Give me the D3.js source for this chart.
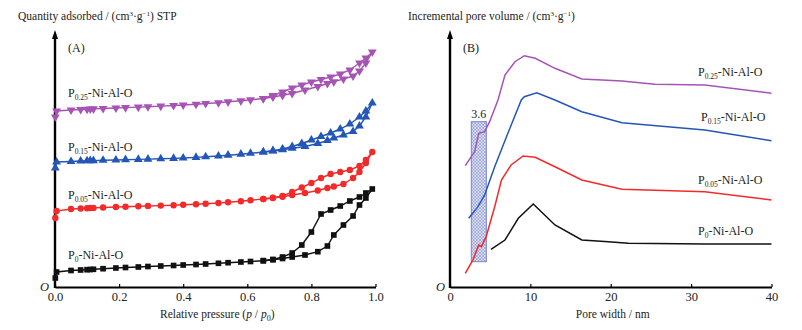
<!DOCTYPE html>
<html>
<head>
<meta charset="utf-8">
<script src="https://cdn.jsdelivr.net/npm/d3@7"></script>
<style>
  body { margin: 0; background: #fff; }
  text { font-family: "Liberation Serif", "Times New Roman", serif; fill: #222; }
</style>
</head>
<body>
<svg id="chart" width="802" height="330"></svg>
<script>
// ---- data (arbitrary, offset units) ----
const pressureAds = [0.001, 0.005, 0.05, 0.08, 0.10, 0.11, 0.12, 0.15, 0.19, 0.22, 0.26, 0.29, 0.33, 0.37, 0.40, 0.44, 0.47,
  0.51, 0.54, 0.58, 0.61, 0.65, 0.68, 0.71, 0.74, 0.78, 0.82, 0.85, 0.87, 0.90, 0.93, 0.95, 0.97, 0.99];
const pressureDes = [0.99, 0.97, 0.95, 0.92, 0.89, 0.86, 0.83, 0.80, 0.77, 0.74, 0.71, 0.68, 0.65];

const p0Ads = [9, 15, 16.5, 17, 17.3, 17.5, 17.7, 18.3, 19, 19.5, 20, 20.5, 21, 21.5, 22, 22.5, 23,
  23.7, 24.3, 25, 25.5, 26.3, 27.3, 28.5, 30, 32, 35.3, 41, 52, 62, 71, 82, 89, 98];
const p0Des = [98, 94, 90, 86, 81, 77, 73, 55, 42, 34, 30, 27.5, 26.3];

const p005Ads = [69, 76, 78, 78.5, 78.8, 79, 79.1, 79.5, 80, 80.3, 80.7, 81, 81.4, 81.8, 82.2, 82.8, 83.3,
  84, 84.8, 85.8, 86.8, 88, 89, 90.3, 92, 94, 96.5, 99, 100.5, 103, 109, 115, 124, 135];
const p005Des = [135, 127, 121, 117, 115, 113, 109, 104, 99.5, 95, 91, 89.3, 88];

const p015Ads = [119, 125, 125.5, 126, 126.2, 126.3, 126.4, 126.7, 127, 127.3, 127.6, 127.9, 128.2, 128.6, 129, 129.6, 130.2,
  131, 131.8, 132.8, 133.7, 135, 136, 137.3, 138.7, 140.5, 143.5, 146.5, 149, 152, 155.5, 161, 170, 184];
const p015Des = [184, 176, 170, 163, 158, 154, 150.5, 147, 143.5, 140.5, 138, 136.3, 135];

const p025Ads = [170, 176, 177, 177.5, 177.8, 178, 178.1, 178.5, 179, 179.4, 179.9, 180.3, 180.9, 181.5, 182, 182.8, 183.5,
  184.3, 185.2, 186.2, 187.2, 188.5, 190, 191.7, 193.5, 197, 200.5, 203.5, 205.3, 208, 211, 216, 224, 235];
const p025Des = [235, 229, 224, 217, 213, 210, 207.5, 205, 202, 199, 195, 191.5, 188.5];

// pore size distribution
const p025Width = [1.9, 3.07, 3.57, 4.31, 4.93, 5.97, 6.84, 8.08, 9.25, 10.6, 13.06, 16.4, 21.4, 25.5, 31.7, 40];
const p025Vol = [121.3, 135.3, 153.7, 155.3, 165.3, 187, 212, 225.3, 231.3, 228.7, 218.7, 208, 206, 202.7, 202, 193.7];
const p015Width = [2.32, 3.48, 4.31, 5.56, 7.2, 8.87, 9.25, 10.8, 13.06, 16.4, 21.4, 31.7, 40];
const p015Vol = [68.7, 80.3, 92, 120.3, 153.7, 187, 190.3, 194.3, 187, 175.3, 164.3, 157, 146.3];
const p005Width = [1.9, 2.86, 3.57, 3.9, 4.5, 5.56, 6.4, 7.6, 9.1, 10.6, 13.06, 16.4, 21.4, 31.7, 40];
const p005Vol = [13.7, 27, 42, 40.3, 50.3, 80.3, 107, 122, 131, 129.7, 120.3, 107, 97.7, 95.3, 87];
const p0Width = [5.1, 6.84, 8.5, 10.36, 13.06, 16.4, 19.7, 22.2, 31.7, 40];
const p0Vol = [37.7, 47, 68.7, 83, 62, 47, 45.3, 43.7, 43, 43];

const pressureTicks = [0, 0.2, 0.4, 0.6, 0.8, 1.0];
const widthTicks = [0, 10, 20, 30, 40];
const highlightBox = { x: [2.65, 4.52], y: [25.3, 165.3], label: '3.6' };

const seriesNames = ['0.25', '0.15', '0.05', '0'];

// ---- layout ----
const svg = d3.select('#chart');
const AXIS_Y = 287;
const colors = { '0.25': '#a653b5', '0.15': '#2456b8', '0.05': '#f22a2a', '0': '#111111' };

const xA = d3.scaleLinear().domain([0, 1]).range([55, 375.5]);
const xB = d3.scaleLinear().domain([0, 40]).range([450, 771.5]);
const y = d3.scaleLinear().domain([0, 255]).range([AXIS_Y, 32]);

// hatch pattern for highlighted box
const defs = svg.append('defs');
const pat = defs.append('pattern')
  .attr('id', 'hatch')
  .attr('patternUnits', 'userSpaceOnUse')
  .attr('width', 3.2).attr('height', 3.2);
pat.append('rect').attr('width', 3.2).attr('height', 3.2).attr('fill', '#eef0fb');
pat.append('path').attr('d', 'M0,0 L3.2,3.2 M3.2,0 L0,3.2')
  .attr('stroke', '#8d98d8').attr('stroke-width', 0.8);

// axes helper
function drawAxes(xScale, ticks, fmt, originX, title, xTitle, titleX) {
  const g = svg.append('g').attr('transform', `translate(0, ${AXIS_Y})`);
  g.call(d3.axisBottom(xScale).tickValues(ticks).tickFormat(fmt).tickSizeInner(-3).tickSizeOuter(0).tickPadding(5));
  g.select('.domain').attr('stroke', '#000').attr('stroke-width', 2);
  g.selectAll('.tick line').attr('stroke', '#000').attr('stroke-width', 1.2);
  g.selectAll('.tick text')
    .style('font-family', '"Liberation Serif", serif')
    .style('font-size', '12.5px')
    .attr('fill', '#222');

  const x0 = xScale.range()[0];
  // y axis with arrow
  svg.append('line')
    .attr('x1', x0).attr('x2', x0)
    .attr('y1', AXIS_Y + 1).attr('y2', 36)
    .attr('stroke', '#000').attr('stroke-width', 2.4);
  svg.append('path')
    .attr('d', `M${x0},${y.range()[1] - 2} L${x0 - 3},${y.range()[1] + 7} L${x0 + 3},${y.range()[1] + 7} Z`)
    .attr('fill', '#000');

  svg.append('text')
    .attr('x', originX).attr('y', AXIS_Y + 4)
    .style('font-size', '12.5px').style('font-style', 'italic')
    .text('O');

  const t = svg.append('text').attr('x', titleX).attr('y', 20).style('font-size', '11.5px');
  title(t);

  xTitle(svg.append('text')
    .attr('x', (xScale.range()[0] + xScale.range()[1]) / 2 + 2)
    .attr('y', 318)
    .attr('text-anchor', 'middle')
    .style('font-size', '11.5px'));
}

drawAxes(xA, pressureTicks, d3.format('.1f'), 40, t => {
  t.append('tspan').text('Quantity adsorbed / (cm');
  t.append('tspan').attr('dy', -4).style('font-size', '7px').text('3');
  t.append('tspan').attr('dy', 4).text('\u00b7g');
  t.append('tspan').attr('dy', -4).style('font-size', '7px').text('\u22121');
  t.append('tspan').attr('dy', 4).text(') STP');
}, t => {
  t.append('tspan').text('Relative pressure (');
  t.append('tspan').style('font-style', 'italic').text('p');
  t.append('tspan').text(' / ');
  t.append('tspan').style('font-style', 'italic').text('p');
  t.append('tspan').attr('dy', 3).style('font-size', '8px').text('0');
  t.append('tspan').attr('dy', -3).text(')');
}, 18);

drawAxes(xB, widthTicks, d3.format('d'), 436, t => {
  t.append('tspan').text('Incremental pore volume / (cm');
  t.append('tspan').attr('dy', -4).style('font-size', '7px').text('3');
  t.append('tspan').attr('dy', 4).text('\u00b7g');
  t.append('tspan').attr('dy', -4).style('font-size', '7px').text('\u22121');
  t.append('tspan').attr('dy', 4).text(')');
}, t => t.text('Pore width / nm'), 408);

svg.append('text').attr('x', 68).attr('y', 52).style('font-size', '12px').text('(A)');
svg.append('text').attr('x', 463).attr('y', 52).style('font-size', '12px').text('(B)');

// series label helper
function seriesLabel(x, yb, sub) {
  const t = svg.append('text').attr('x', x).attr('y', yb).style('font-size', '12px');
  t.append('tspan').text('P');
  t.append('tspan').attr('dy', 3).style('font-size', '7.5px').text(sub);
  t.append('tspan').attr('dy', -3).text('-Ni-Al-O');
}

// ---- panel A: isotherms ----
const isoData = {
  '0.25': [p025Ads, p025Des],
  '0.15': [p015Ads, p015Des],
  '0.05': [p005Ads, p005Des],
  '0': [p0Ads, p0Des]
};
const symbols = {
  '0.25': { type: d3.symbolTriangle, size: 34, rotate: 180 },
  '0.15': { type: d3.symbolTriangle, size: 34, rotate: 0 },
  '0.05': { type: d3.symbolCircle, size: 32, rotate: 0 },
  '0': { type: d3.symbolSquare, size: 32, rotate: 0 }
};
const lineA = d3.line().x(d => xA(d[0])).y(d => y(d[1]));

seriesNames.forEach(name => {
  const ads = pressureAds.map((p, i) => [p, isoData[name][0][i]]);
  const des = pressureDes.map((p, i) => [p, isoData[name][1][i]]);
  const g = svg.append('g');
  [ads, des].forEach(pts => {
    g.append('path')
      .datum(pts)
      .attr('fill', 'none')
      .attr('stroke', colors[name])
      .attr('stroke-width', 1.4)
      .attr('d', lineA);
  });
  const sym = d3.symbol().type(symbols[name].type).size(symbols[name].size);
  g.selectAll('path.mark')
    .data(ads.concat(des.slice(1)))
    .join('path')
    .attr('class', 'mark')
    .attr('fill', colors[name])
    .attr('d', sym)
    .attr('transform', d => `translate(${xA(d[0])},${y(d[1])}) rotate(${symbols[name].rotate})`);
});

seriesLabel(68, 97, '0.25');
seriesLabel(68, 151, '0.15');
seriesLabel(68, 199, '0.05');
seriesLabel(68, 259, '0');

// ---- panel B: pore size distribution ----
svg.append('rect')
  .attr('x', xB(highlightBox.x[0]))
  .attr('y', y(highlightBox.y[1]))
  .attr('width', xB(highlightBox.x[1]) - xB(highlightBox.x[0]))
  .attr('height', y(highlightBox.y[0]) - y(highlightBox.y[1]))
  .attr('fill', 'url(#hatch)')
  .attr('stroke', '#7884cc')
  .attr('stroke-width', 1);
svg.append('text')
  .attr('x', (xB(highlightBox.x[0]) + xB(highlightBox.x[1])) / 2)
  .attr('y', y(highlightBox.y[1]) - 4)
  .attr('text-anchor', 'middle')
  .style('font-size', '12px')
  .text(highlightBox.label);

const psdData = {
  '0.25': [p025Width, p025Vol],
  '0.15': [p015Width, p015Vol],
  '0.05': [p005Width, p005Vol],
  '0': [p0Width, p0Vol]
};
const lineB = d3.line().x(d => xB(d[0])).y(d => y(d[1]));
seriesNames.forEach(name => {
  const pts = psdData[name][0].map((w, i) => [w, psdData[name][1][i]]);
  svg.append('path')
    .datum(pts)
    .attr('fill', 'none')
    .attr('stroke', colors[name])
    .attr('stroke-width', 1.5)
    .attr('d', lineB);
});

seriesLabel(698, 76, '0.25');
seriesLabel(701, 121, '0.15');
seriesLabel(698, 184, '0.05');
seriesLabel(698, 235, '0');
</script>
</body>
</html>
